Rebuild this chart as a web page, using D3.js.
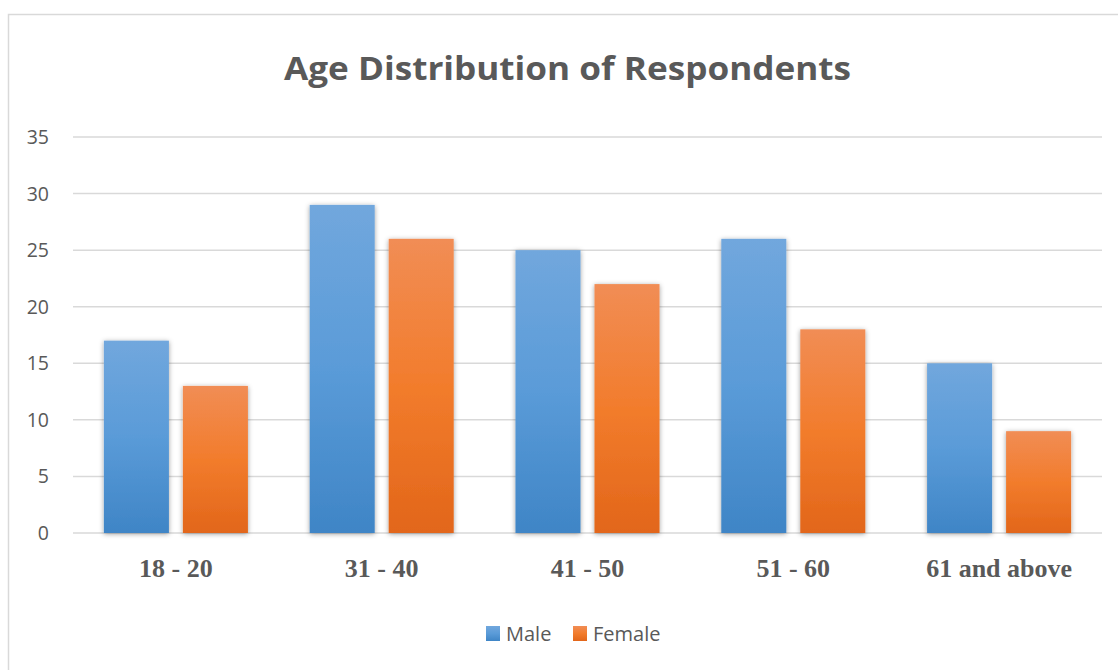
<!DOCTYPE html>
<html>
<head>
<meta charset="utf-8">
<script src="https://cdn.jsdelivr.net/npm/d3@7"></script>
<style>
  html, body { margin: 0; padding: 0; background: #fff; }
  svg { display: block; }
</style>
</head>
<body>
<svg id="chart" width="1118" height="670"></svg>
<script>
const categories = ["18 - 20", "31 - 40", "41 - 50", "51 - 60", "61 and above"];
const series = ["Male", "Female"];
const maleValues = [17, 29, 25, 26, 15];
const femaleValues = [13, 26, 22, 18, 9];
const yTicks = [0, 5, 10, 15, 20, 25, 30, 35];
const title = "Age Distribution of Respondents";

const values = { Male: maleValues, Female: femaleValues };
const colors = {
  Male: ["#71a7dd", "#5a9bd8", "#3f85c6"],
  Female: ["#f18d55", "#f27c2c", "#e2661a"]
};

const svg = d3.select("#chart");
const defs = svg.append("defs");

series.forEach(s => {
  const g = defs.append("linearGradient").attr("id", "grad-" + s)
    .attr("x1", 0).attr("y1", 0).attr("x2", 0).attr("y2", 1);
  g.append("stop").attr("offset", "0%").attr("stop-color", colors[s][0]);
  g.append("stop").attr("offset", "50%").attr("stop-color", colors[s][1]);
  g.append("stop").attr("offset", "100%").attr("stop-color", colors[s][2]);
});

const f = defs.append("filter").attr("id", "shadow")
  .attr("x", "-20%").attr("y", "-10%").attr("width", "140%").attr("height", "120%");
f.append("feDropShadow").attr("dx", 0).attr("dy", 1).attr("stdDeviation", 2.5)
  .attr("flood-color", "#000").attr("flood-opacity", 0.38);

// frame
svg.append("rect").attr("x", 8.5).attr("y", 14.5).attr("width", 1200).attr("height", 700)
  .attr("fill", "none").attr("stroke", "#d9d9d9").attr("stroke-width", 1.5);

const x0 = d3.scaleBand().domain(categories).range([73, 1102]).padding(0);
const x1 = d3.scaleBand().domain(series).range([0, x0.bandwidth()])
  .paddingInner(0.177).paddingOuter(0.391);
const y = d3.scaleLinear().domain([0, 35]).range([533, 137]);

// gridlines
svg.append("g").selectAll("line").data(yTicks).join("line")
  .attr("x1", 73).attr("x2", 1102)
  .attr("y1", d => y(d)).attr("y2", d => y(d))
  .attr("stroke", "#d9d9d9").attr("stroke-width", 1.5);

// y-axis labels
svg.append("g").selectAll("text").data(yTicks).join("text")
  .attr("x", 49).attr("y", d => y(d))
  .attr("dy", "0.36em")
  .attr("text-anchor", "end")
  .attr("font-family", "'Open Sans', 'Liberation Sans', sans-serif")
  .attr("font-size", 19.5)
  .attr("fill", "#595959")
  .text(d => d);

// bars
const groups = svg.append("g").selectAll("g").data(categories).join("g")
  .attr("transform", d => `translate(${x0(d)},0)`);

groups.selectAll("rect").data((c, i) => series.map(s => ({ s, v: values[s][i] })))
  .join("rect")
  .attr("x", d => x1(d.s))
  .attr("width", x1.bandwidth())
  .attr("y", d => y(d.v))
  .attr("height", d => y(0) - y(d.v))
  .attr("fill", d => `url(#grad-${d.s})`)
  .attr("filter", "url(#shadow)");

// x labels
svg.append("g").selectAll("text").data(categories).join("text")
  .attr("x", d => x0(d) + x0.bandwidth() / 2)
  .attr("y", 577)
  .attr("text-anchor", "middle")
  .attr("font-family", "'Liberation Serif', 'Times New Roman', serif")
  .attr("font-weight", "bold")
  .attr("font-size", 26)
  .attr("fill", "#595959")
  .text(d => d);

// title
svg.append("text")
  .attr("x", 567.5).attr("y", 80)
  .attr("text-anchor", "middle")
  .attr("font-family", "'Open Sans', 'Liberation Sans', sans-serif")
  .attr("font-weight", "bold")
  .attr("font-size", 33)
  .attr("fill", "#595959")
  .attr("textLength", 567)
  .attr("lengthAdjust", "spacingAndGlyphs")
  .text(title);

// legend
const legendX = { Male: 486, Female: 573 };
const lg = svg.append("g").selectAll("g").data(series).join("g")
  .attr("transform", d => `translate(${legendX[d]},626)`);
lg.append("rect").attr("width", 14).attr("height", 15)
  .attr("fill", d => `url(#grad-${d})`);
lg.append("text").attr("x", 20).attr("y", 7.5).attr("dy", "0.36em")
  .attr("font-family", "'Open Sans', 'Liberation Sans', sans-serif")
  .attr("font-size", 20)
  .attr("fill", "#595959")
  .text(d => d);
</script>
</body>
</html>
